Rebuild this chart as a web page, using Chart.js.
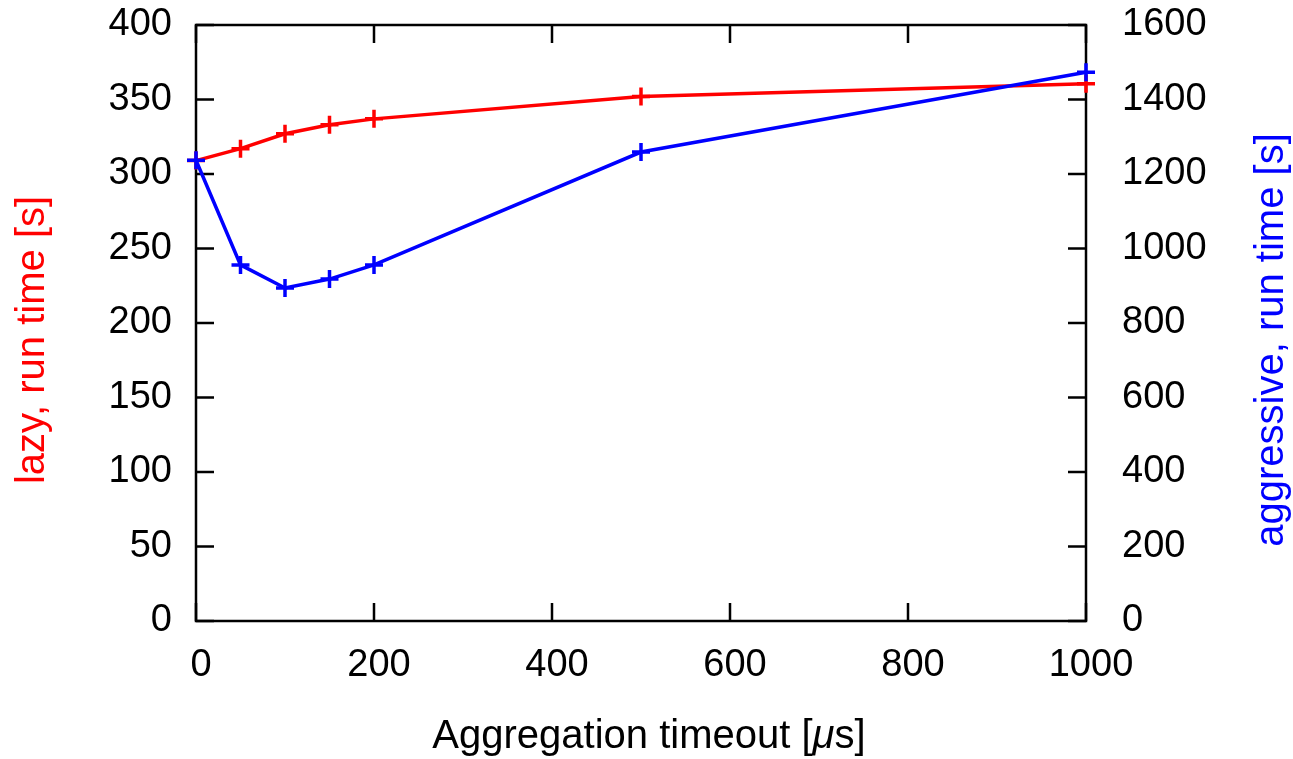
<!DOCTYPE html>
<html><head><meta charset="utf-8">
<script src="https://cdn.jsdelivr.net/npm/chart.js@4"></script>
<style>html,body{margin:0;padding:0;background:#fff}#wrap{width:1293px;height:759px}</style>
</head><body><div id="wrap"><canvas id="c" width="1293" height="759"></canvas></div>
<script>
const timeouts = [0, 50, 100, 150, 200, 500, 1000];
const lazyRunTime = [309, 317, 327, 333, 337, 352, 360.5];
const aggressiveRunTime = [1237, 956, 894, 918, 956, 1259, 1473];
const xTicks = [0, 200, 400, 600, 800, 1000];
const yLeftTicks = [0, 50, 100, 150, 200, 250, 300, 350, 400];
const yRightTicks = [0, 200, 400, 600, 800, 1000, 1200, 1400, 1600];
const xTitleA = 'Aggregation timeout [';
const xTitleMu = 'μ';
const xTitleB = 's]';
const yLeftTitle = 'lazy, run time [s]';
const yRightTitle = 'aggressive, run time [s]';

const FONT = 'Liberation Sans, Arial, Helvetica, sans-serif';
const FS = 38;
const TFS = 40;

const framePlugin = {
  id: 'frame',
  beforeDatasetsDraw(chart) {
    const {ctx, chartArea: a, scales} = chart;
    ctx.save();
    ctx.strokeStyle = '#000';
    ctx.lineWidth = 2.5;
    ctx.strokeRect(a.left, a.top, a.right - a.left, a.bottom - a.top);
    const L = 18;
    ctx.beginPath();
    xTicks.forEach(v => {
      const x = scales.x.getPixelForValue(v);
      ctx.moveTo(x, a.bottom); ctx.lineTo(x, a.bottom - L);
      ctx.moveTo(x, a.top); ctx.lineTo(x, a.top + L);
    });
    yLeftTicks.forEach(v => {
      const y = scales.y.getPixelForValue(v);
      ctx.moveTo(a.left, y); ctx.lineTo(a.left + L, y);
    });
    yRightTicks.forEach(v => {
      const y = scales.y2.getPixelForValue(v);
      ctx.moveTo(a.right, y); ctx.lineTo(a.right - L, y);
    });
    ctx.stroke();
    ctx.restore();
  },
  afterDraw(chart) {
    const {ctx} = chart;
    ctx.save();
    ctx.fillStyle = '#000';
    ctx.textBaseline = 'alphabetic';
    ctx.font = TFS + 'px ' + FONT;
    const wA = ctx.measureText(xTitleA).width;
    const wB = ctx.measureText(xTitleB).width;
    ctx.font = 'italic ' + TFS + 'px ' + FONT;
    const wM = ctx.measureText(xTitleMu).width;
    const total = wA + wM + wB;
    let x = 649 - total / 2;
    const by = 748;
    ctx.font = TFS + 'px ' + FONT;
    ctx.textAlign = 'left';
    ctx.fillText(xTitleA, x, by);
    ctx.font = 'italic ' + TFS + 'px ' + FONT;
    ctx.fillText(xTitleMu, x + wA, by);
    ctx.font = TFS + 'px ' + FONT;
    ctx.fillText(xTitleB, x + wA + wM, by);

    ctx.textAlign = 'center';
    ctx.fillStyle = '#ff0000';
    ctx.translate(44, 340);
    ctx.rotate(-Math.PI / 2);
    ctx.fillText(yLeftTitle, 0, 0);
    ctx.setTransform(1, 0, 0, 1, 0, 0);
    ctx.fillStyle = '#0000ff';
    ctx.translate(1283, 340);
    ctx.rotate(-Math.PI / 2);
    ctx.fillText(yRightTitle, 0, 0);
    ctx.restore();
  }
};

const tickFont = {family: FONT, size: FS};
const plain = v => String(v);

new Chart(document.getElementById('c'), {
  type: 'line',
  data: {
    datasets: [
      {
        label: 'aggressive',
        data: timeouts.map((t, i) => ({x: t, y: aggressiveRunTime[i]})),
        yAxisID: 'y2',
        borderColor: '#0000ff',
        backgroundColor: '#0000ff',
        borderWidth: 3.5,
        pointStyle: 'cross',
        pointRadius: 9,
        pointBorderWidth: 3.5,
        pointBorderColor: '#0000ff',
        tension: 0,
        clip: false,
        order: 0
      },
      {
        label: 'lazy',
        data: timeouts.map((t, i) => ({x: t, y: lazyRunTime[i]})),
        yAxisID: 'y',
        borderColor: '#ff0000',
        backgroundColor: '#ff0000',
        borderWidth: 3.5,
        pointStyle: 'cross',
        pointRadius: 9,
        pointBorderWidth: 3.5,
        pointBorderColor: '#ff0000',
        tension: 0,
        clip: false,
        order: 1
      }
    ]
  },
  options: {
    responsive: false,
    animation: false,
    devicePixelRatio: 1,
    layout: {padding: {top: 25, left: 0, right: 0, bottom: 0}},
    plugins: {legend: {display: false}, tooltip: {enabled: false}},
    scales: {
      x: {
        type: 'linear', position: 'bottom', min: 0, max: 1000,
        grid: {display: false, drawTicks: true, tickLength: 22}, border: {display: false},
        afterBuildTicks: s => { s.ticks = xTicks.map(v => ({value: v})); },
        afterFit: s => { s.height = 138; },
        ticks: {font: tickFont, color: '#000', padding: 0, labelOffset: 5, maxRotation: 0, autoSkip: false, callback: plain}
      },
      y: {
        type: 'linear', position: 'left', min: 0, max: 400,
        grid: {display: false, drawTicks: true, tickLength: 24}, border: {display: false},
        afterBuildTicks: s => { s.ticks = yLeftTicks.map(v => ({value: v})); },
        afterFit: s => { s.width = 196; },
        ticks: {font: tickFont, color: '#000', padding: 0, autoSkip: false, callback: plain}
      },
      y2: {
        type: 'linear', position: 'right', min: 0, max: 1600,
        grid: {display: false, drawTicks: true, tickLength: 36}, border: {display: false},
        afterBuildTicks: s => { s.ticks = yRightTicks.map(v => ({value: v})); },
        afterFit: s => { s.width = 207; },
        ticks: {font: tickFont, color: '#000', padding: 0, autoSkip: false, callback: plain}
      }
    }
  },
  plugins: [framePlugin]
});
</script>
</body></html>
